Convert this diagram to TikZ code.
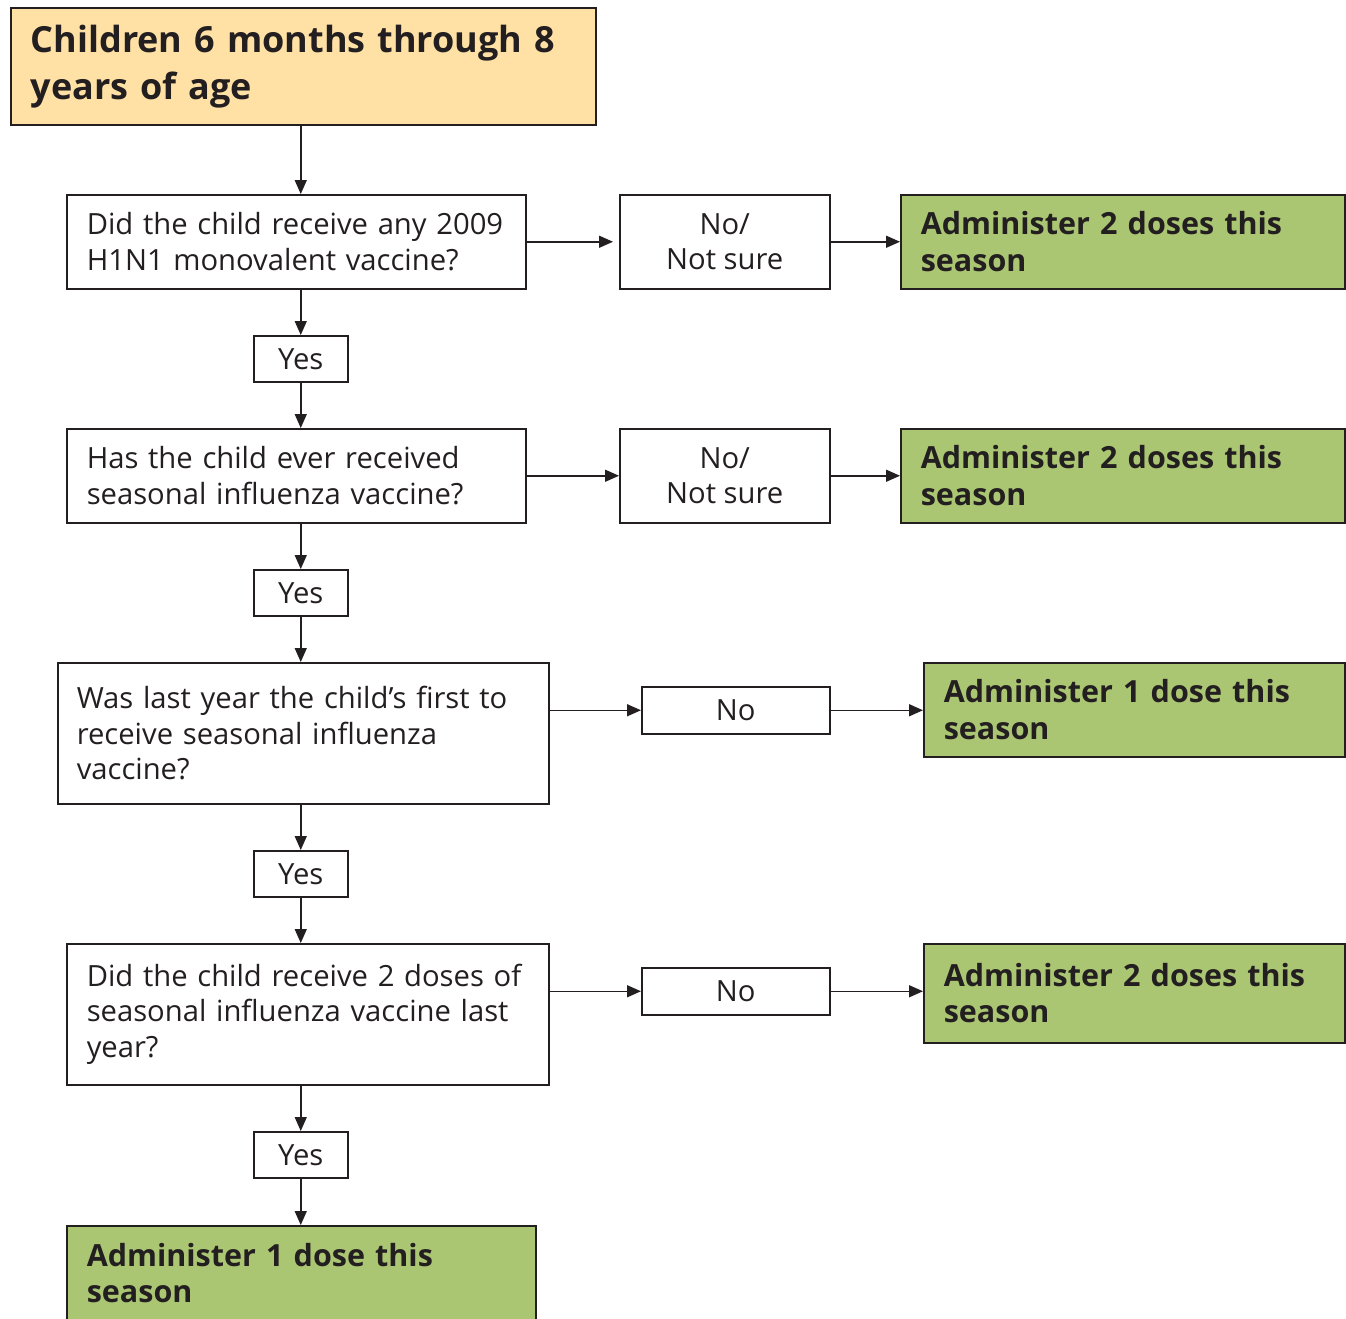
\documentclass[tikz,border=0pt]{standalone}
\usepackage{fontspec}
\setmainfont{Open Sans}
\usetikzlibrary{arrows.meta}
\definecolor{ink}{HTML}{231F20}
\definecolor{gfill}{HTML}{ABC673}
\definecolor{ofill}{HTML}{FFE1A5}
\tikzset{
  bx/.style={draw=ink, line width=1.5pt, rectangle, anchor=north west, inner xsep=20pt, inner ysep=0pt, align=left, text=ink},
  qbox/.style={bx, fill=white, font=\fontsize{29.2}{35.5}\selectfont},
  gbox/.style={bx, fill=gfill, font=\fontsize{30.5}{36.5}\selectfont\bfseries},
  tbox/.style={bx, fill=ofill, font=\fontsize{36}{47}\selectfont\bfseries},
  ybox/.style={draw=ink, line width=1.5pt, rectangle, anchor=north west, inner sep=0pt, align=center, fill=white, text=ink, font=\fontsize{29.2}{35.5}\selectfont},
  arr/.style={draw=ink, line width=1.5pt, -{Triangle[length=14pt,width=12pt]}}
}
\begin{document}
\begin{tikzpicture}[x=1pt,y=-1pt]
\useasboundingbox (0,0) rectangle (1346,1318);
\clip (0,0) rectangle (1346,1318);
\fill[white] (0,0) rectangle (1346,1318);
\node[tbox, minimum width=585pt, minimum height=117pt, text width=545pt] (title) at (10,7) {Children 6 months through 8\\years of age};
\node[qbox, minimum width=459pt, minimum height=94pt, text width=419pt] (q1) at (66,194) {Did the child receive any 2009\\H1N1 monovalent vaccine?};
\node[ybox, minimum width=210pt, minimum height=94pt] (n1) at (619,194) {No/\\Not sure};
\node[gbox, minimum width=444pt, minimum height=94pt, text width=404pt] (g1) at (900,194) {Administer 2 doses this\\season};
\node[ybox, minimum width=94pt, minimum height=46pt] (y1) at (253,335) {Yes};
\node[qbox, minimum width=459pt, minimum height=94pt, text width=419pt] (q2) at (66,428) {Has the child ever received\\seasonal influenza vaccine?};
\node[ybox, minimum width=210pt, minimum height=94pt] (n2) at (619,428) {No/\\Not sure};
\node[gbox, minimum width=444pt, minimum height=94pt, text width=404pt] (g2) at (900,428) {Administer 2 doses this\\season};
\node[ybox, minimum width=94pt, minimum height=46pt] (y2) at (253,569) {Yes};
\node[qbox, minimum width=491pt, minimum height=141pt, text width=453pt, inner xsep=19pt] (q3) at (57,662) {Was last year the child’s first to\\receive seasonal influenza\\vaccine?};
\node[ybox, minimum width=188pt, minimum height=47pt] (n3) at (641,686) {No};
\node[gbox, minimum width=421pt, minimum height=94pt, text width=381pt] (g3) at (923,662) {Administer 1 dose this\\season};
\node[ybox, minimum width=94pt, minimum height=46pt] (y3) at (253,850) {Yes};
\node[qbox, minimum width=482pt, minimum height=141pt, text width=442pt] (q4) at (66,943) {Did the child receive 2 doses of\\seasonal influenza vaccine last\\year?};
\node[ybox, minimum width=188pt, minimum height=47pt] (n4) at (641,967) {No};
\node[gbox, minimum width=421pt, minimum height=99pt, text width=381pt] (g4) at (923,943) {Administer 2 doses this\\season};
\node[ybox, minimum width=94pt, minimum height=46pt] (y4) at (253,1131) {Yes};
\node[gbox, minimum width=469pt, minimum height=95pt, text width=429pt] (g5) at (66,1225) {Administer 1 dose this\\season};
% vertical connectors
\draw[arr] (title.south -| y1) -- (q1.north -| y1);
\draw[arr] (q1.south -| y1) -- (y1.north);
\draw[arr] (y1.south) -- (q2.north -| y1);
\draw[arr] (q2.south -| y2) -- (y2.north);
\draw[arr] (y2.south) -- (q3.north -| y2);
\draw[arr] (q3.south -| y3) -- (y3.north);
\draw[arr] (y3.south) -- (q4.north -| y3);
\draw[arr] (q4.south -| y4) -- (y4.north);
\draw[arr] (y4.south) -- (g5.north -| y4);
% horizontal connectors
\draw[arr, shorten >=6pt] (q1.east) -- (n1.west);
\draw[arr] (n1.east) -- (g1.west);
\draw[arr] (q2.east) -- (n2.west);
\draw[arr] (n2.east) -- (g2.west);
\draw[arr] (q3.east |- n3) -- (n3.west);
\draw[arr] (n3.east) -- (g3.west |- n3);
\draw[arr] (q4.east |- n4) -- (n4.west);
\draw[arr] (n4.east) -- (g4.west |- n4);
\end{tikzpicture}
\end{document}
